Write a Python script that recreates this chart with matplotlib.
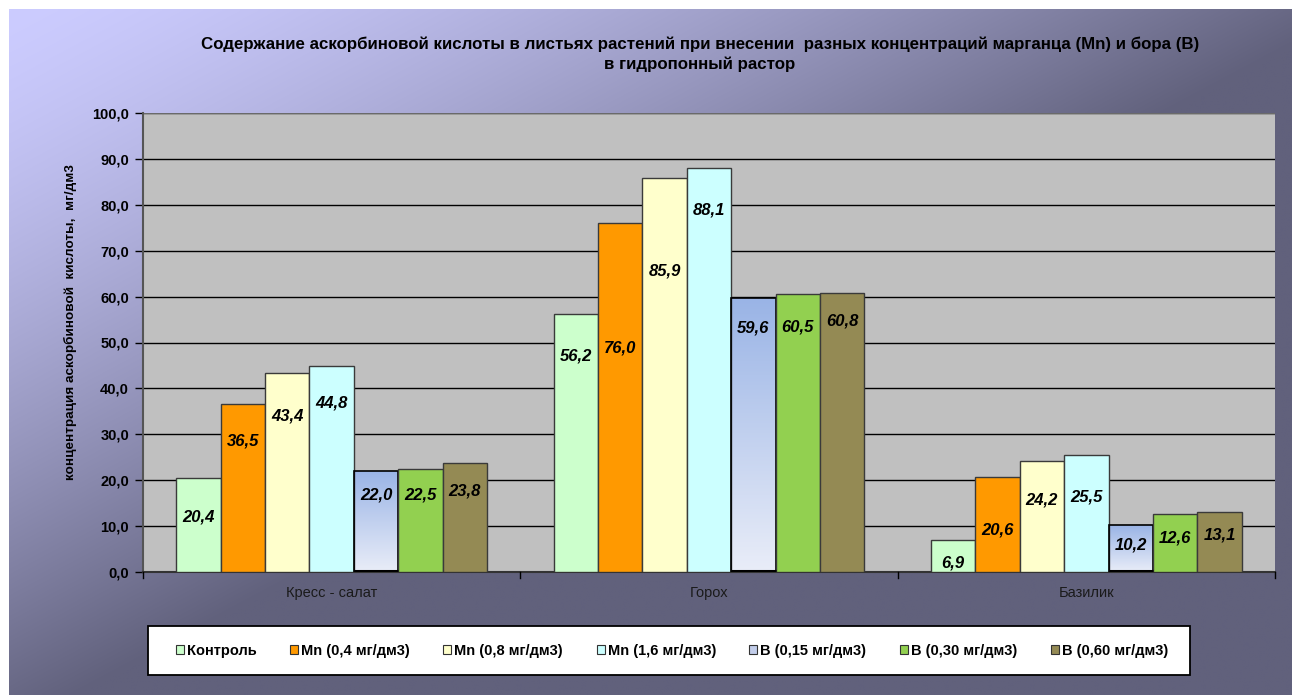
import numpy as np
import matplotlib
matplotlib.use("Agg")
import matplotlib.pyplot as plt
from matplotlib.colors import to_rgb, LinearSegmentedColormap
from matplotlib.patches import Rectangle
from matplotlib import font_manager

# ---------------- data ----------------
categories = ["Кресс - салат", "Горох", "Базилик"]
series_names = ["Контроль", "Mn (0,4 мг/дм3)", "Mn (0,8 мг/дм3)", "Mn (1,6 мг/дм3)",
                "B (0,15 мг/дм3)", "B (0,30 мг/дм3)", "B (0,60 мг/дм3)"]
control = [20.4, 56.2, 6.9]
mn_04 = [36.5, 76.0, 20.6]
mn_08 = [43.4, 85.9, 24.2]
mn_16 = [44.8, 88.1, 25.5]
b_015 = [22.0, 59.6, 10.2]
b_030 = [22.5, 60.5, 12.6]
b_060 = [23.8, 60.8, 13.1]
series_values = [control, mn_04, mn_08, mn_16, b_015, b_030, b_060]
# vertical position (data units) of each value label
label_y = [
    [12.0, 47.1, 1.9],
    [28.5, 48.8, 9.2],
    [34.0, 65.6, 15.7],
    [36.8, 78.9, 16.3],
    [16.8, 53.2, 5.9],
    [16.8, 53.4, 7.4],
    [17.6, 54.7, 8.1],
]
y_ticks = np.arange(0, 101, 10)
y_tick_labels = [f"{v:.1f}".replace(".", ",") for v in y_ticks]

title = ("Содержание аскорбиновой кислоты в листьях растений при внесении  разных концентраций марганца (Mn) и бора (B)\n"
         "в гидропонный растор")
y_label = "концентрация аскорбиновой  кислоты,  мг/дм3"

# ---------------- style ----------------
colors = ["#ccffcc", "#ff9900", "#ffffcc", "#ccffff", "#c2cdea", "#92d050", "#948a54"]
grad_top, grad_bot = "#9ab4e6", "#e9edf8"

installed = {f.name for f in font_manager.fontManager.ttflist}
base_font = "Liberation Sans" if "Liberation Sans" in installed else "DejaVu Sans"
plt.rcParams["font.family"] = [base_font, "DejaVu Sans"]

W, H = 1292, 695
fig = plt.figure(figsize=(W / 100, H / 100), dpi=100, facecolor="white")

# background gradient of the chart area
bg_ax = fig.add_axes([9 / W, 0, 1 - 9 / W, 1 - 9 / H], zorder=0)
bg_ax.set_axis_off()
nx, ny = 400, 220
xx, yy = np.meshgrid(np.linspace(0, 1, nx), np.linspace(0, 1, ny))
t = np.clip(0.95 * xx + 0.95 * yy, 0, 1) ** 1.4
c0 = np.array(to_rgb("#ccccff"))
c1 = np.array(to_rgb("#61617c"))
img = c0[None, None, :] * (1 - t[..., None]) + c1[None, None, :] * t[..., None]
bg_ax.imshow(img, aspect="auto", extent=[0, 1, 1, 0], interpolation="bilinear")
bg_ax.set_xlim(0, 1)
bg_ax.set_ylim(1, 0)

# main axes
ax = fig.add_axes([143 / W, 1 - 572 / H, (1275 - 143) / W, (572 - 113) / H], zorder=1)
ax.set_facecolor("#c0c0c0")

n = len(series_values)
bar_w = 0.1177
x = np.arange(len(categories))
cmap_grad = LinearSegmentedColormap.from_list("g", [grad_bot, grad_top])

for i, (vals, col) in enumerate(zip(series_values, colors)):
    xs = x + (i - (n - 1) / 2) * bar_w
    if i == 4:
        bars = ax.bar(xs, vals, width=bar_w, color="none", edgecolor="black",
                      linewidth=1.2, zorder=3)
        for b in bars:
            x0, w, h = b.get_x(), b.get_width(), b.get_height()
            grad = np.linspace(0, 1, 100).reshape(-1, 1)
            im = ax.imshow(grad, cmap=cmap_grad, origin="lower", aspect="auto",
                           extent=[x0, x0 + w, 0, h], zorder=2.5)
            clip = Rectangle((x0, 0), w, h, transform=ax.transData)
            im.set_clip_path(clip)
            ax.plot([x0, x0 + w], [0.15, 0.15], color="black", lw=2.2, zorder=4,
                    solid_capstyle="butt")
    else:
        ax.bar(xs, vals, width=bar_w, color=col, edgecolor="#3a3a3a",
               linewidth=1.0, zorder=3)
    for xi, v, ly in zip(xs, vals, label_y[i]):
        ax.text(xi, ly, f"{v:.1f}".replace(".", ","), ha="center", va="center",
                fontsize=12, fontweight="bold", fontstyle="italic", color="black",
                zorder=5)

ax.set_xlim(-0.5, len(categories) - 0.5)
ax.set_ylim(0, 100)
ax.set_yticks(y_ticks)
ax.set_yticklabels(y_tick_labels, fontsize=10.5, fontweight="bold")
ax.yaxis.grid(True, color="black", linewidth=1.0, zorder=1)
ax.set_axisbelow(True)
ax.tick_params(axis="y", direction="out", length=6, width=1, color="black", pad=4)

ax.set_xticks(x)
ax.set_xticklabels(categories, fontsize=10.5, color="#1a1a1a", va="baseline")
ax.tick_params(axis="x", length=0, pad=18)
for xb in np.arange(-0.5, len(categories), 1.0):
    ax.plot([xb, xb], [0, -1.2], color="black", lw=1, clip_on=False, zorder=5)

for s in ["top", "right"]:
    ax.spines[s].set_visible(False)
ax.spines["left"].set_color("#555555")
ax.spines["left"].set_linewidth(1.5)
ax.spines["bottom"].set_color("#333333")
ax.spines["bottom"].set_linewidth(1.5)
ax.axhline(100, color="#808080", lw=1.2, zorder=1)

fig.text(700 / W, 1 - 54 / H, title, ha="center", va="center", fontsize=12.2,
         fontweight="bold", color="black", linespacing=1.35)
fig.text(70 / W, 1 - 322 / H, y_label, ha="center", va="center", rotation=90,
         fontsize=9.7, fontweight="bold", color="black")

# legend: white framed box drawn separately, entries placed inside
fig.patches.append(Rectangle((148 / W, 1 - 675 / H), (1190 - 148) / W, 49 / H,
                             transform=fig.transFigure, facecolor="white",
                             edgecolor="black", linewidth=1.3, zorder=2))
handles = [Rectangle((0, 0), 1, 1, facecolor=c, edgecolor="#333333", linewidth=0.8)
           for c in colors]
leg = fig.legend(handles, series_names, loc="center left",
                 bbox_to_anchor=(176 / W, 1 - 651 / H), ncol=7, frameon=False,
                 prop={"weight": "bold", "size": 10.5},
                 handlelength=0.55, handleheight=0.55, handletextpad=0.2,
                 columnspacing=2.3, borderpad=0, borderaxespad=0)
leg.set_zorder(3)

fig.savefig("out.png", dpi=100, facecolor=fig.get_facecolor())
